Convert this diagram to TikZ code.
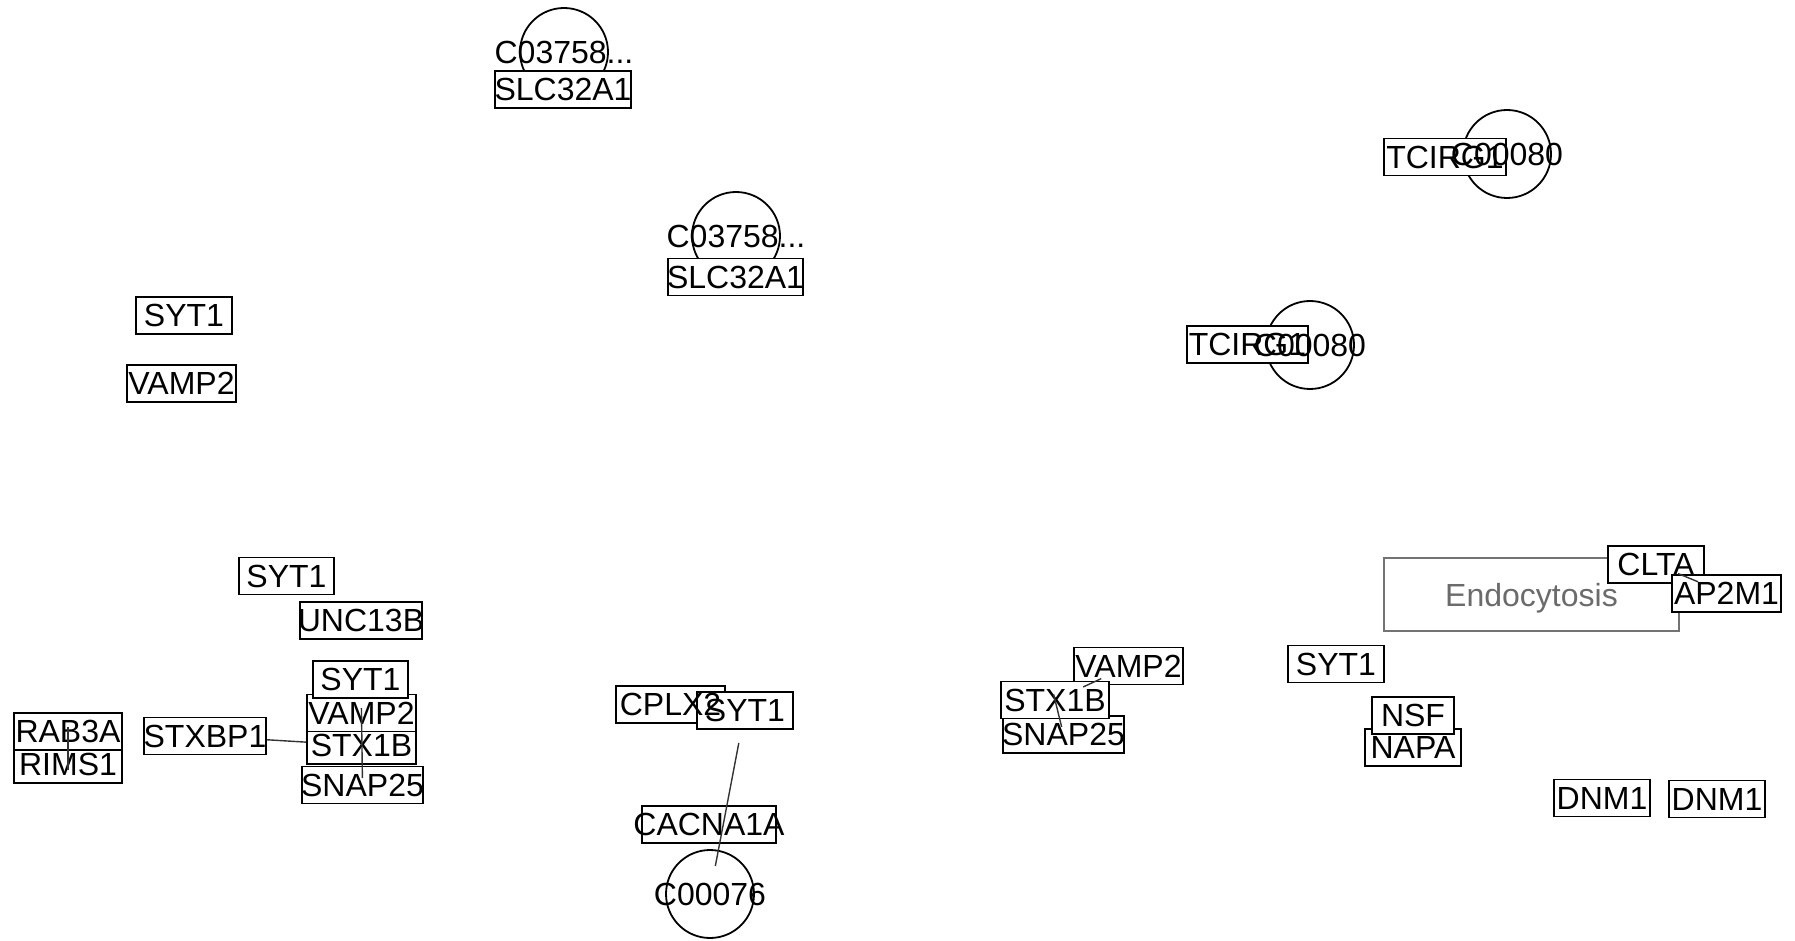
\documentclass[tikz,border=0pt]{standalone}
\usepackage{fontspec}
\setmainfont{Liberation Sans}

\begin{document}
\begin{tikzpicture}[x=0.5pt,y=-0.5pt,
  lbl/.style={font=\fontsize{16}{19}\selectfont,inner sep=0pt},
  gene/.style={draw,fill=white,line width=0.9pt,inner sep=0pt,minimum height=18.5pt},
  cpd/.style={circle,draw,line width=0.9pt,minimum size=44pt,inner sep=0pt},
  pmap/.style={lbl,draw=black!55,line width=0.9pt,text=black!58,text depth=0pt,minimum width=147.5pt,minimum height=36.5pt},
  rel/.style={draw=black!80,line width=0.7pt}]
\useasboundingbox (0,0) rectangle (1795,941);
% pathway map
\node[pmap] (endo) at (1531.5,594.5) {Endocytosis};
% compounds
\node[cpd] (c03758a) at (564,52) {};
\node[cpd] (c03758b) at (736,236) {};
\node[cpd] (c00080a) at (1507,154) {};
\node[cpd] (c00080b) at (1310,345) {};
\node[cpd] (c00076) at (710,894) {};
% gene boxes
\node[gene,minimum width=48pt] (syt1a) at (184,315.5) {};
\node[gene,minimum width=54.5pt] (vamp2a) at (181.5,383.5) {};
\node[gene,minimum width=68pt] (slc32a1a) at (563,89.5) {};
\node[gene,minimum width=67.5pt] (slc32a1b) at (735.5,277) {};
\node[gene,minimum width=61pt] (tcirg1a) at (1445,157) {};
\node[gene,minimum width=60.5pt] (tcirg1b) at (1247.5,344.5) {};
\node[gene,minimum width=47.5pt] (syt1b) at (286.5,576) {};
\node[gene,minimum width=61pt] (unc13b) at (361,620.5) {};
\node[gene,minimum width=54.5pt] (stx1ba) at (361.5,745.5) {};
\node[gene,minimum width=54.5pt] (vamp2b) at (361.5,713) {};
\node[gene,minimum width=47.5pt] (syt1c) at (360.5,679.5) {};
\node[gene,minimum width=60.5pt] (snap25a) at (362.5,785) {};
\node[gene,minimum width=54pt] (rims1) at (68,764.5) {};
\node[gene,minimum width=54pt] (rab3a) at (68,731.5) {};
\node[gene,minimum width=61pt] (stxbp1) at (205,736) {};
\node[gene,minimum width=54.5pt] (cplx2) at (670.5,704.5) {};
\node[gene,minimum width=48pt] (syt1d) at (745,710.5) {};
\node[gene,minimum width=67pt] (cacna1a) at (709,824.5) {};
\node[gene,minimum width=54.5pt] (vamp2c) at (1128.5,666) {};
\node[gene,minimum width=60.5pt] (snap25b) at (1063.5,734.5) {};
\node[gene,minimum width=54pt] (stx1bb) at (1055,700) {};
\node[gene,minimum width=48pt] (clta) at (1656,564.5) {};
\node[gene,minimum width=54.5pt] (ap2m1) at (1726.5,593.5) {};
\node[gene,minimum width=48pt] (syt1e) at (1336,664) {};
\node[gene,minimum width=48pt] (napa) at (1413,747.5) {};
\node[gene,minimum width=41pt] (nsf) at (1413,715.5) {};
\node[gene,minimum width=48pt] (dnm1a) at (1602,798) {};
\node[gene,minimum width=48pt] (dnm1b) at (1717,799) {};
% labels, drawn over all boxes
\node[lbl] (t-syt1a) at (syt1a) {SYT1};
\node[lbl] (t-vamp2a) at (vamp2a) {VAMP2};
\node[lbl] (t-slc32a1a) at (slc32a1a) {SLC32A1};
\node[lbl] (t-slc32a1b) at (slc32a1b) {SLC32A1};
\node[lbl] (t-tcirg1a) at (tcirg1a) {TCIRG1};
\node[lbl] (t-tcirg1b) at (tcirg1b) {TCIRG1};
\node[lbl] (t-syt1b) at (syt1b) {SYT1};
\node[lbl] (t-unc13b) at (unc13b) {UNC13B};
\node[lbl] (t-stx1ba) at (stx1ba) {STX1B};
\node[lbl] (t-vamp2b) at (vamp2b) {VAMP2};
\node[lbl] (t-syt1c) at (syt1c) {SYT1};
\node[lbl] (t-snap25a) at (snap25a) {SNAP25};
\node[lbl] (t-rims1) at (rims1) {RIMS1};
\node[lbl] (t-rab3a) at (rab3a) {RAB3A};
\node[lbl] (t-stxbp1) at (stxbp1) {STXBP1};
\node[lbl] (t-cplx2) at (cplx2) {CPLX2};
\node[lbl] (t-syt1d) at (syt1d) {SYT1};
\node[lbl] (t-cacna1a) at (cacna1a) {CACNA1A};
\node[lbl] (t-vamp2c) at (vamp2c) {VAMP2};
\node[lbl] (t-snap25b) at (snap25b) {SNAP25};
\node[lbl] (t-stx1bb) at (stx1bb) {STX1B};
\node[lbl] (t-clta) at (clta) {CLTA};
\node[lbl] (t-ap2m1) at (ap2m1) {AP2M1};
\node[lbl] (t-syt1e) at (syt1e) {SYT1};
\node[lbl] (t-napa) at (napa) {NAPA};
\node[lbl] (t-nsf) at (nsf) {NSF};
\node[lbl] (t-dnm1a) at (dnm1a) {DNM1};
\node[lbl] (t-dnm1b) at (dnm1b) {DNM1};
\node[lbl] (t-c03758a) at (c03758a) {C03758...};
\node[lbl] (t-c03758b) at (c03758b) {C03758...};
\node[lbl] (t-c00080a) at (c00080a) {C00080};
\node[lbl] (t-c00080b) at (c00080b) {C00080};
\node[lbl] (t-c00076) at (c00076) {C00076};
% relations
\draw[rel] (stxbp1) -- (stx1ba);
\draw[rel,shorten <=-2.5pt,shorten >=3.5pt] (vamp2b.center) -- (snap25a.center);
\draw[rel,shorten <=-2.25pt,shorten >=-2.75pt] (rab3a.center) -- (rims1.center);
\draw[rel,shorten <=16.5pt,shorten >=14.25pt] (syt1d.center) -- (c00076.center);
\draw[rel,shorten <=15.5pt,shorten >=15pt] (stx1bb.center) -- (vamp2c.center);
\draw[rel,shorten <=-3pt,shorten >=3.9pt] (stx1bb.center) -- (snap25b.center);
\draw[rel,shorten <=11.9pt,shorten >=15.4pt] (clta.center) -- (ap2m1.center);
\end{tikzpicture}
\end{document}
